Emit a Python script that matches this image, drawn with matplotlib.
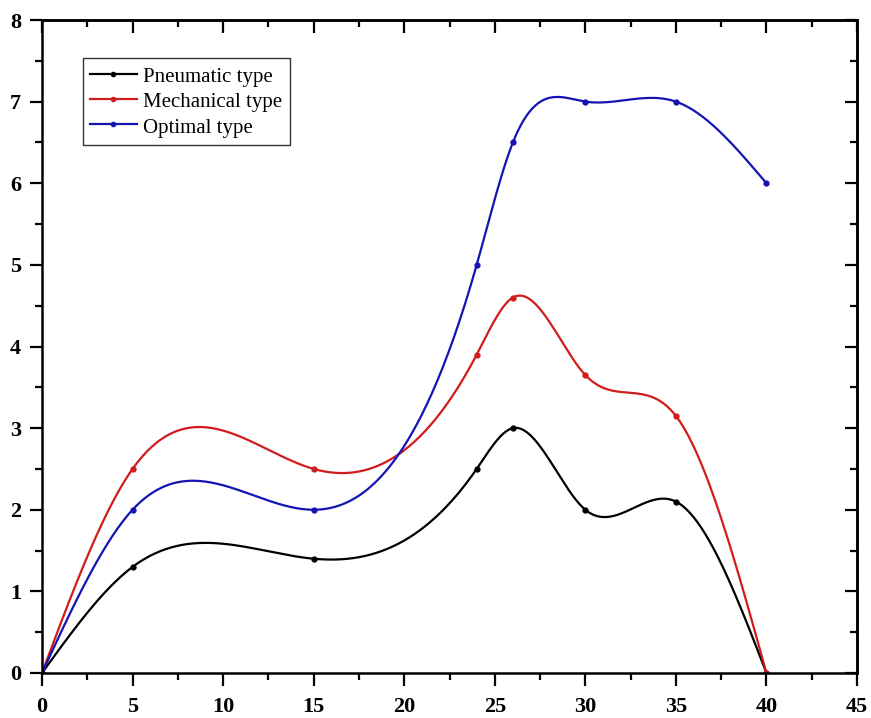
import numpy as np
import matplotlib
matplotlib.use("Agg")
import matplotlib.pyplot as plt
from matplotlib.ticker import MultipleLocator

x = [0, 5, 15, 24, 26, 30, 35, 40]
pneumatic = [0, 1.3, 1.4, 2.5, 3.0, 2.0, 2.1, 0]
mechanical = [0, 2.5, 2.5, 3.9, 4.6, 3.65, 3.15, 0]
optimal = [0, 2.0, 2.0, 5.0, 6.5, 7.0, 7.0, 6.0]
labels = ["Pneumatic type", "Mechanical type", "Optimal type"]
colors = ["#000000", "#d01c1c", "#1414b4"]


def natural_spline(xs, ys, n=400):
    xs = np.asarray(xs, float)
    ys = np.asarray(ys, float)
    k = len(xs)
    h = np.diff(xs)
    A = np.zeros((k, k))
    b = np.zeros(k)
    A[0, 0] = 1
    A[-1, -1] = 1
    for i in range(1, k - 1):
        A[i, i - 1] = h[i - 1]
        A[i, i] = 2 * (h[i - 1] + h[i])
        A[i, i + 1] = h[i]
        b[i] = 3 * ((ys[i + 1] - ys[i]) / h[i] - (ys[i] - ys[i - 1]) / h[i - 1])
    c = np.linalg.solve(A, b)
    bb = np.zeros(k - 1)
    d = np.zeros(k - 1)
    for i in range(k - 1):
        bb[i] = (ys[i + 1] - ys[i]) / h[i] - h[i] * (2 * c[i] + c[i + 1]) / 3
        d[i] = (c[i + 1] - c[i]) / (3 * h[i])
    xx = np.linspace(xs[0], xs[-1], n)
    idx = np.clip(np.searchsorted(xs, xx) - 1, 0, k - 2)
    t = xx - xs[idx]
    yy = ys[idx] + bb[idx] * t + c[idx] * t ** 2 + d[idx] * t ** 3
    return xx, yy


plt.rcParams['font.family'] = ['Liberation Serif', 'DejaVu Serif']

fig = plt.figure(figsize=(8.71, 7.18), dpi=100)
ax = fig.add_axes([42 / 871, 45 / 718, 815 / 871, 653 / 718])

for ys, lab, col in zip([pneumatic, mechanical, optimal], labels, colors):
    xx, yy = natural_spline(x, ys)
    ax.plot(xx, yy, color=col, lw=1.6)
    ax.plot(x, ys, 'o', color=col, ms=3.5, mec=col)
    ax.plot([], [], color=col, lw=1.6, marker='o', ms=3, label=lab)

ax.set_xlim(0, 45)
ax.set_ylim(0, 8)
ax.xaxis.set_major_locator(MultipleLocator(5))
ax.xaxis.set_minor_locator(MultipleLocator(2.5))
ax.yaxis.set_major_locator(MultipleLocator(1))
ax.yaxis.set_minor_locator(MultipleLocator(0.5))
ax.tick_params(which='major', direction='out', length=9, width=1.6, labelsize=16)
ax.tick_params(which='minor', direction='out', length=5, width=1.6)
for lab in ax.get_xticklabels() + ax.get_yticklabels():
    lab.set_fontweight('bold')
ax.tick_params(axis='y', pad=6)
ax.tick_params(axis='x', pad=8)
for s in ax.spines.values():
    s.set_linewidth(1.8)

top = ax.secondary_xaxis('top')
top.xaxis.set_major_locator(MultipleLocator(5))
top.xaxis.set_minor_locator(MultipleLocator(2.5))
top.tick_params(which='major', direction='in', length=9, width=1.6, labeltop=False)
top.tick_params(which='minor', direction='in', length=5, width=1.6)
top.spines['top'].set_linewidth(1.8)
right = ax.secondary_yaxis('right')
right.yaxis.set_major_locator(MultipleLocator(1))
right.yaxis.set_minor_locator(MultipleLocator(0.5))
right.tick_params(which='major', direction='in', length=9, width=1.6, labelright=False)
right.tick_params(which='minor', direction='in', length=5, width=1.6)
right.spines['right'].set_linewidth(1.8)

leg = ax.legend(loc='upper left', bbox_to_anchor=(0.05, 0.942), borderaxespad=0,
                fontsize=15, frameon=True, fancybox=False, edgecolor='black',
                handlelength=2.25, handletextpad=0.3, labelspacing=0.15,
                handleheight=1.1, borderpad=0.35)
leg.get_frame().set_linewidth(1.0)

fig.savefig("out.png", dpi=100)
